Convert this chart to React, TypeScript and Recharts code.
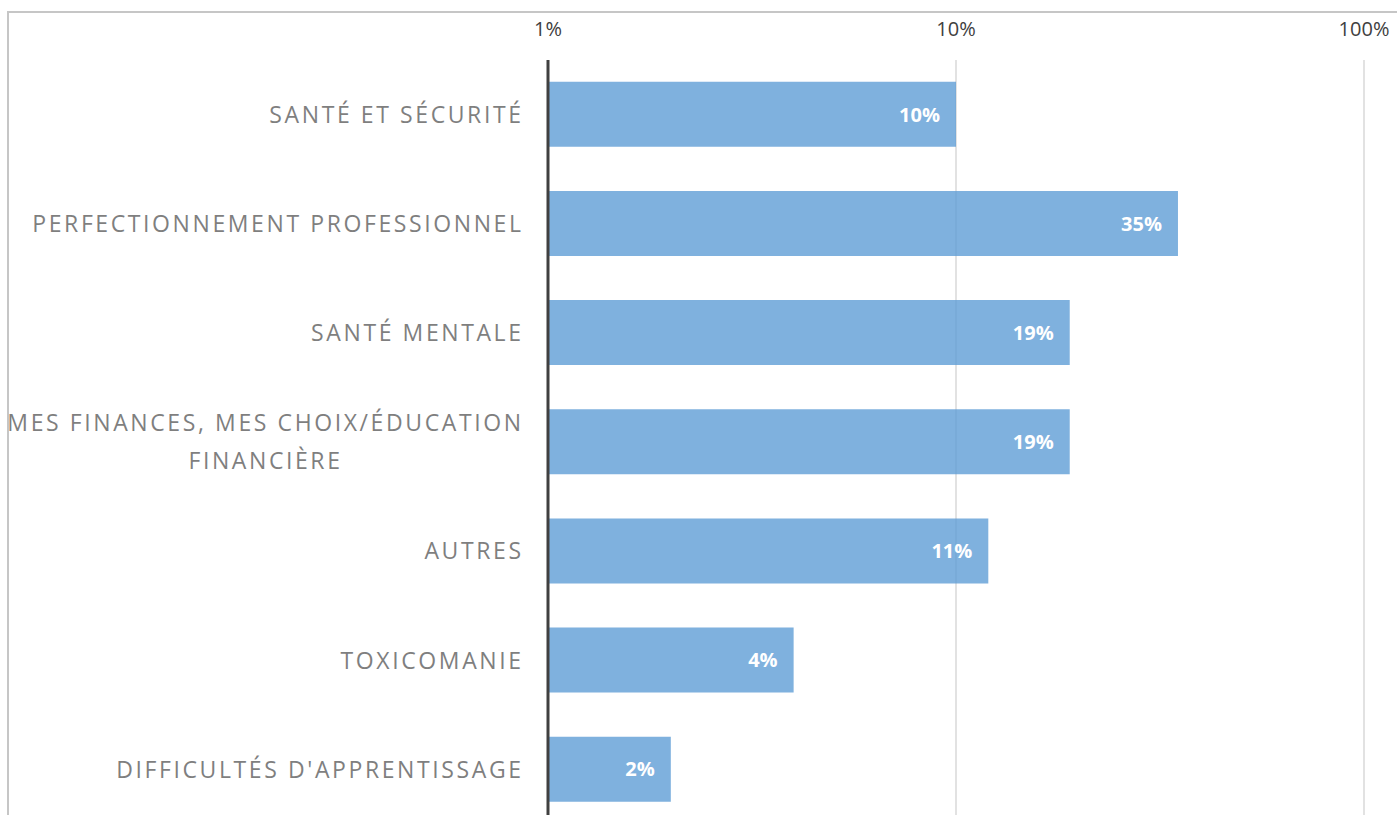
import React from "react";
import {
  BarChart,
  Bar,
  XAxis,
  YAxis,
  CartesianGrid,
  LabelList,
} from "recharts";

const categories = [
  "SANTÉ ET SÉCURITÉ",
  "PERFECTIONNEMENT PROFESSIONNEL",
  "SANTÉ MENTALE",
  "MES FINANCES, MES CHOIX/ÉDUCATION FINANCIÈRE",
  "AUTRES",
  "TOXICOMANIE",
  "DIFFICULTÉS D'APPRENTISSAGE",
];
const values = [10, 35, 19, 19, 12, 4, 2];
const valueLabels = ["10%", "35%", "19%", "19%", "11%", "4%", "2%"];
const xTicks = [1, 10, 100];

const data = categories.map((name, i) => ({
  name,
  value: values[i],
  label: valueLabels[i],
}));

const CAT_FONT = "Open Sans";
const CAT_SIZE = 23;
const CAT_SPACING = 2.6;
const MAX_CHARS = 34;

function wrap(text: string): string[] {
  const words = text.split(" ");
  const lines: string[] = [];
  let cur = "";
  for (const w of words) {
    const next = cur ? cur + " " + w : w;
    if (next.length > MAX_CHARS && cur) {
      lines.push(cur);
      cur = w;
    } else cur = next;
  }
  if (cur) lines.push(cur);
  return lines;
}

let ctx: CanvasRenderingContext2D | null = null;
function measure(t: string) {
  if (!ctx) ctx = document.createElement("canvas").getContext("2d");
  if (!ctx) return t.length * 15;
  ctx.font = `${CAT_SIZE}px "${CAT_FONT}"`;
  return ctx.measureText(t).width + t.length * CAT_SPACING;
}

const CategoryTick = (props: any) => {
  const { y, payload } = props;
  const right = 521 + CAT_SPACING;
  const lines = wrap(payload.value);
  const lh = 38;
  const widest = Math.max(...lines.map(measure));
  const multi = lines.length > 1;
  return (
    <g>
      {lines.map((l, i) => (
        <text
          key={i}
          x={multi ? right - widest / 2 : right}
          y={y + (i - (lines.length - 1) / 2) * lh}
          dy="0.36em"
          textAnchor={multi ? "middle" : "end"}
          fill="#7f7f7f"
          fontFamily={CAT_FONT}
          fontSize={CAT_SIZE}
          letterSpacing={CAT_SPACING}
        >
          {l}
        </text>
      ))}
    </g>
  );
};

const PctTick = (props: any) => {
  const { x, payload } = props;
  return (
    <text
      x={x}
      y={36}
      textAnchor="middle"
      fill="#404040"
      fontFamily="Open Sans"
      fontSize={20}
    >
      {payload.value}%
    </text>
  );
};

const BarValue = (props: any) => {
  const { x, y, width, height, value } = props;
  return (
    <text
      x={x + width - 16}
      y={y + height / 2}
      dy="0.36em"
      textAnchor="end"
      fill="#ffffff"
      fontFamily="Open Sans"
      fontWeight={700}
      fontSize={20}
    >
      {value}
    </text>
  );
};

export default function App() {
  return (
    <div
      style={{
        position: "absolute",
        left: 0,
        top: 0,
        width: 1397,
        height: 815,
        overflow: "hidden",
        background: "#fff",
      }}
    >
      <div
        style={{
          position: "absolute",
          left: 7,
          top: 11,
          width: 1500,
          height: 900,
          borderTop: "2px solid #c6c6c6",
          borderLeft: "2px solid #c6c6c6",
        }}
      />
      <div style={{ position: "absolute", left: 0, top: 0 }}>
        <BarChart
          width={1397}
          height={830}
          data={data}
          layout="vertical"
          barCategoryGap="20%"
          margin={{ top: 0, right: 33, bottom: 6, left: 0 }}
        >
          <CartesianGrid
            horizontal={false}
            stroke="#d9d9d9"
            strokeWidth={1.5}
          />
          <XAxis
            type="number"
            orientation="top"
            scale="log"
            domain={[1, 100]}
            ticks={xTicks}
            height={60}
            axisLine={false}
            tickLine={false}
            tick={<PctTick />}
            allowDataOverflow
          />
          <YAxis
            type="category"
            dataKey="name"
            width={548}
            axisLine={{ stroke: "#404040", strokeWidth: 3 }}
            tickLine={false}
            tick={<CategoryTick />}
            interval={0}
          />
          <Bar
            dataKey="value"
            fill="#5b9bd5"
            fillOpacity={0.78}
            isAnimationActive={false}
          >
            <LabelList dataKey="label" content={<BarValue />} />
          </Bar>
        </BarChart>
      </div>
    </div>
  );
}
